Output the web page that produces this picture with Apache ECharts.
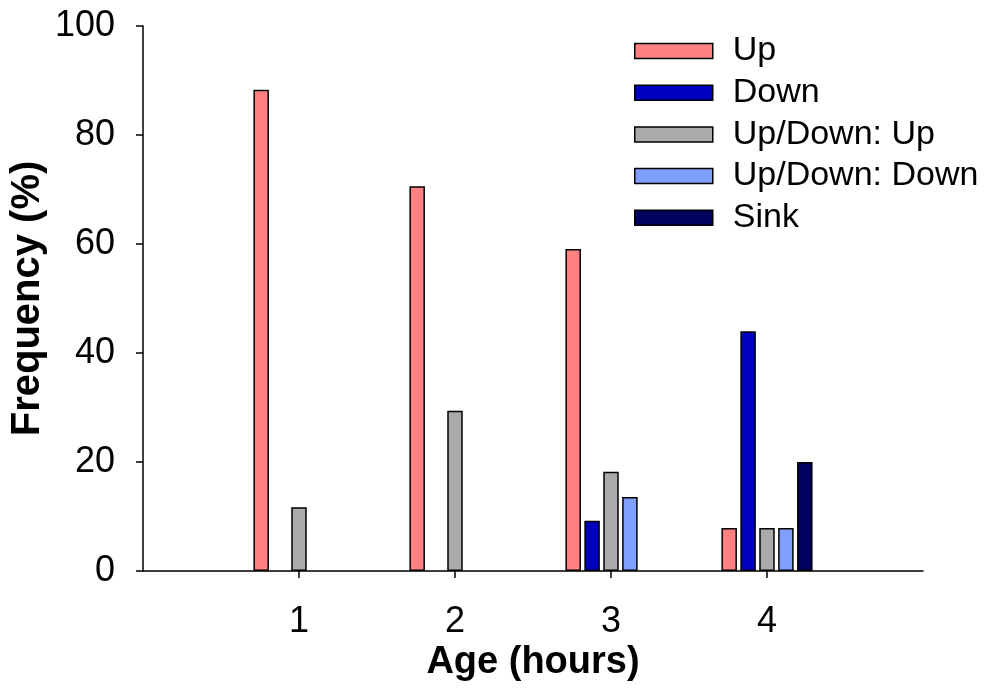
<!DOCTYPE html>
<html>
<head>
<meta charset="utf-8">
<script src="https://cdn.jsdelivr.net/npm/echarts@6/dist/echarts.min.js"></script>
<style>
html,body{margin:0;padding:0;background:#fff;}
#chart{width:989px;height:692px;}
</style>
</head>
<body>
<div id="chart"></div>
<script>
// Data
const ages = ['1', '2', '3', '4'];
const seriesNames = ['Up', 'Down', 'Up/Down: Up', 'Up/Down: Down', 'Sink'];
const upValues = [88.3, 70.6, 59.1, 7.9];
const downValues = [null, null, 9.2, 44.0];
const upDownUpValues = [11.7, 29.4, 18.2, 7.9];
const upDownDownValues = [null, null, 13.6, 7.9];
const sinkValues = [null, null, null, 20.0];
const yTicks = [0, 20, 40, 60, 80, 100];

const colors = ['#FF8080', '#0000C0', '#AAAAAA', '#80A0FF', '#000060'];
const allValues = [upValues, downValues, upDownUpValues, upDownDownValues, sinkValues];

// pad the category axis with empty slots at 0 and 5 so the axis spans 0..5
const axisCats = [''].concat(ages).concat(['']);
const pad = arr => [null].concat(arr).concat([null]);

const chart = echarts.init(document.getElementById('chart'), null, {renderer: 'canvas'});
const FONT = '"Liberation Sans", Arial, sans-serif';

const option = {
  animation: false,
  backgroundColor: '#ffffff',
  grid: {left: 143, right: 66, top: 26, bottom: 121, containLabel: false, outerBoundsMode: 'none'},
  legend: {
    orient: 'vertical',
    left: 629,
    top: 29,
    itemWidth: 78,
    itemHeight: 15,
    itemGap: 7.7,
    icon: 'rect',
    data: seriesNames,
    textStyle: {fontFamily: FONT, fontSize: 34, color: '#000', lineHeight: 32, padding: [0, 0, 0, 15]},
    itemStyle: {borderColor: '#000', borderWidth: 1.5}
  },
  xAxis: {
    type: 'category',
    data: axisCats,
    boundaryGap: false,
    name: 'Age (hours)',
    nameLocation: 'middle',
    nameGap: 73,
    nameMoveOverlap: false,
    nameTextStyle: {fontFamily: FONT, fontSize: 38, fontWeight: 'bold', color: '#000'},
    axisLine: {show: true, lineStyle: {color: '#000', width: 1.5}},
    axisTick: {show: true, length: 7, lineStyle: {color: '#000', width: 1.5},
      interval: function (i) { return i >= 1 && i <= ages.length; }},
    axisLabel: {fontFamily: FONT, fontSize: 36, color: '#000', margin: 33,
      interval: function (i) { return i >= 1 && i <= ages.length; }},
    splitLine: {show: false}
  },
  yAxis: {
    type: 'value',
    min: yTicks[0],
    max: yTicks[yTicks.length - 1],
    interval: yTicks[1] - yTicks[0],
    name: 'Frequency (%)',
    nameLocation: 'middle',
    nameGap: 95,
    nameMoveOverlap: false,
    nameTextStyle: {fontFamily: FONT, fontSize: 40, fontWeight: 'bold', color: '#000'},
    axisLine: {show: true, lineStyle: {color: '#000', width: 1.5}},
    axisTick: {show: true, length: 7, lineStyle: {color: '#000', width: 1.5}},
    axisLabel: {fontFamily: FONT, fontSize: 36, color: '#000', margin: 28},
    splitLine: {show: false}
  },
  series: seriesNames.map((name, k) => ({
    name: name,
    type: 'bar',
    data: pad(allValues[k]),
    barWidth: 15.5,
    barGap: '22%',
    itemStyle: {color: colors[k], borderColor: '#000', borderWidth: 1.5}
  }))
};
chart.setOption(option);
</script>
</body>
</html>
